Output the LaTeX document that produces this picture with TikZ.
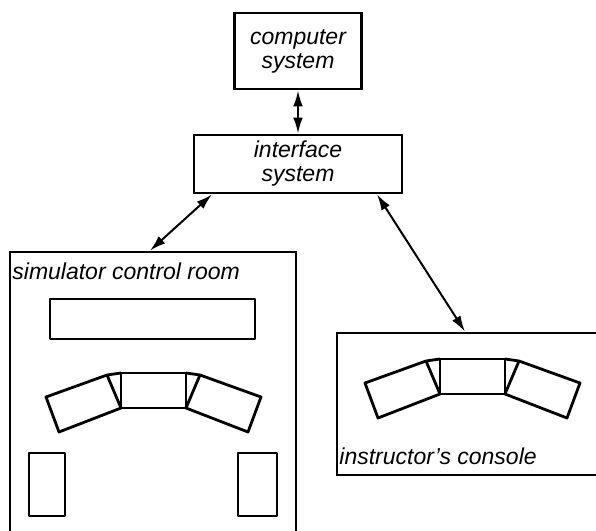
\documentclass[tikz,border=0pt]{standalone}
\usepackage{fontspec}
\setmainfont{Liberation Sans}
\usetikzlibrary{arrows.meta}
\tikzset{
  sysbox/.style={draw, line width=1.4pt, align=center, inner sep=0pt,
    font=\itshape\fontsize{11.5}{12}\selectfont},
  roombox/.style={draw, line width=1.4pt, inner sep=0pt},
  roomlabel/.style={anchor=west, inner sep=0pt, font=\itshape\fontsize{11.5}{12}\selectfont},
  linkarrow/.style={{Latex[length=2.8mm,width=1.7mm]}-{Latex[length=2.8mm,width=1.7mm]}, line width=1pt},
  deskline/.style={line width=1.4pt, line join=round},
}

\begin{document}
\begin{tikzpicture}[x=0.5pt, y=-0.5pt]
  \useasboundingbox (0,0) rectangle (596,531);
  \clip (0,0) rectangle (596,531);
  % system boxes
  \node[sysbox, minimum width=63.5pt, minimum height=38pt] (comp) at (298,51) {computer\\system};
  \node[sysbox, minimum width=104pt, minimum height=29pt] (iface) at (298,164) {interface\\system};
  % rooms (cut off by the page edge)
  \node[roombox, minimum width=143pt, minimum height=154pt] (room) at (153,406) {};
  \node[roombox, minimum width=141.5pt, minimum height=71pt] (instr) at (478.5,404) {};
  \node[roomlabel] (roomtext) at (12,271) {simulator control room};
  \node[roomlabel] (instrtext) at (339,456) {instructor's console};
  % links
  \draw[linkarrow] (comp.south) -- (iface.north);
  \draw[linkarrow] ([xshift=-43pt]iface.south) -- ([xshift=-1.5pt]room.north);
  \draw[linkarrow] ([xshift=39.5pt]iface.south) -- ([xshift=-6.75pt]instr.north);
  % control room furniture
  \draw[deskline] (50,299) rectangle (255,339);
  \draw[deskline] (29,453) rectangle (65,516);
  \draw[deskline] (238,453) rectangle (277,516);
  % desks
  \foreach \dx/\dy in {121/373, 440/359} {
    \begin{scope}[shift={(\dx,\dy)}]
      \draw[deskline] (0,0) rectangle (65,35);
      \draw[deskline] (0,35) -- (-14,2) -- (-75,24) -- (-62,59) -- cycle;
      \draw[deskline] (-14,2) -- (0,0);
      \draw[deskline] (65,35) -- (79,2) -- (140,24) -- (127,59) -- cycle;
      \draw[deskline] (79,2) -- (65,0);
    \end{scope}
  }
\end{tikzpicture}
\end{document}
